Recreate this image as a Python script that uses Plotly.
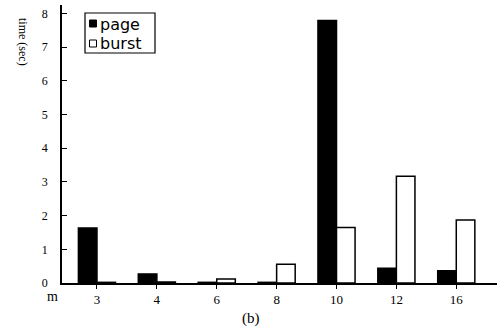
import plotly.graph_objects as go

categories = ["3", "4", "6", "8", "10", "12", "16"]
page = [1.63, 0.27, 0.02, 0.02, 7.79, 0.44, 0.36]
burst = [0.02, 0.03, 0.12, 0.56, 1.65, 3.17, 1.87]
y_ticks = [0, 1, 2, 3, 4, 5, 6, 7, 8]
series_names = ["page", "burst"]

serif = "Liberation Serif, Times New Roman, serif"
sans = "DejaVu Sans, Arial, sans-serif"

W, H = 502, 334
plot_l, plot_r, plot_t, plot_b = 62, 497, 5, 283


def px(x):
    return (x - plot_l) / (plot_r - plot_l)


def py(y):
    return (plot_b - y) / (plot_b - plot_t)


fig = go.Figure()
fig.add_trace(go.Bar(x=categories, y=page, name=series_names[0], showlegend=False,
                     marker=dict(color="black", line=dict(color="black", width=1.5))))
fig.add_trace(go.Bar(x=categories, y=burst, name=series_names[1], showlegend=False,
                     marker=dict(color="white", line=dict(color="black", width=1.5))))

shapes = [
    # legend box
    dict(type="rect", xref="paper", yref="paper", x0=px(85), x1=px(155), y0=py(53), y1=py(13),
         line=dict(color="black", width=1.2), fillcolor="white", layer="above"),
    dict(type="rect", xref="paper", yref="paper", x0=px(89.5), x1=px(96.5), y0=py(27), y1=py(20),
         line=dict(color="black", width=1), fillcolor="black", layer="above"),
    dict(type="rect", xref="paper", yref="paper", x0=px(89.5), x1=px(96.5), y0=py(47), y1=py(40),
         line=dict(color="black", width=1), fillcolor="white", layer="above"),
]

annotations = [
    dict(text=series_names[0], x=px(98), y=py(24), xanchor="left", yanchor="middle",
         font=dict(family=sans, size=16, color="black")),
    dict(text=series_names[1], x=px(98), y=py(43), xanchor="left", yanchor="middle",
         font=dict(family=sans, size=16, color="black")),
    dict(text="time (sec)", textangle=90, x=px(23), y=py(42), xanchor="center", yanchor="middle",
         font=dict(family=serif, size=12, color="black")),
    dict(text="m", x=px(52), y=py(296), xanchor="center", yanchor="middle",
         font=dict(family=serif, size=14, color="black")),
    dict(text="(b)", x=px(251), y=py(318), xanchor="center", yanchor="middle",
         font=dict(family=serif, size=15, color="black")),
]
for a in annotations:
    a.update(xref="paper", yref="paper", showarrow=False)

fig.update_layout(
    width=W, height=H,
    margin=dict(l=plot_l, r=W - plot_r, t=plot_t, b=H - plot_b),
    paper_bgcolor="white", plot_bgcolor="white",
    barmode="group", bargap=0.38, bargroupgap=0,
    showlegend=False,
    xaxis=dict(type="category", range=[-0.584, 6.68],
               showline=True, linecolor="black", linewidth=1.5,
               ticks="outside", ticklen=4, tickcolor="black",
               tickfont=dict(family=serif, size=13, color="black"),
               showgrid=False, zeroline=False),
    yaxis=dict(range=[0, 8.25], tickvals=y_ticks,
               showline=True, linecolor="black", linewidth=1.5,
               ticks="inside", ticklen=5, tickcolor="black",
               ticklabelstandoff=10,
               tickfont=dict(family=serif, size=12, color="black"),
               showgrid=False, zeroline=False),
    shapes=shapes,
    annotations=annotations,
)

fig.write_html("out.html", config={"displayModeBar": False},
               post_script="document.body.style.margin='0';document.body.style.overflow='hidden';")
